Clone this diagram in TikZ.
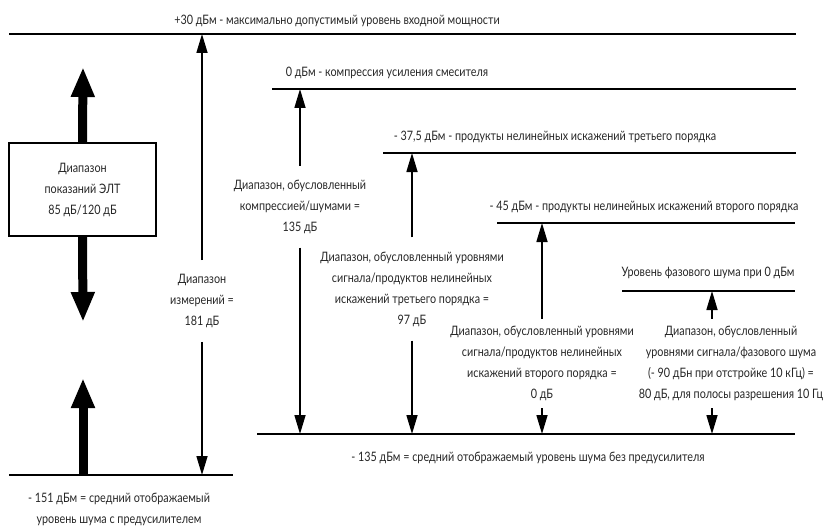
\documentclass[tikz,border=0pt]{standalone}
\usepackage{fontspec}
\setmainfont[FakeStretch=0.83]{Lato}
\usetikzlibrary{arrows.meta}

\begin{document}
\begin{tikzpicture}[x=1pt,y=-1pt,
  level/.style={line width=2.6pt},
  thin arrow/.style={line width=1.6pt,-{Triangle[width=11pt,length=19pt]}},
  thick arrow/.style={line width=9pt,-{Triangle[width=22pt,length=30pt]}},
  lvltext/.style={font=\fontsize{13}{21}\selectfont,inner sep=0pt,text=black!85},
  rangetext/.style={lvltext,align=center,inner xsep=2pt,inner ysep=14pt}]
\useasboundingbox (0,0) rectangle (823,527);

% Level lines
\foreach \name/\xa/\xb/\y in {top/9/796/34, comp/272/796/89, third/383/796/153,
    second/497/795/223, phase/622/795/291, noise/257/795/434, noisepre/9/233/475} {
  \coordinate (\name-l) at (\xa,\y);
  \coordinate (\name-r) at (\xb,\y);
  \draw[level] (\name-l) -- (\name-r);
}

% Level labels
\node[lvltext] (top-txt) at (337,21) {+30 дБм - максимально допустимый уровень входной мощности};
\node[lvltext] (comp-txt) at (387,73) {0 дБм - компрессия усиления смесителя};
\node[lvltext] (third-txt) at (555,137) {- 37,5 дБм - продукты нелинейных искажений третьего порядка};
\node[lvltext] (second-txt) at (644,207) {- 45 дБм - продукты нелинейных искажений второго порядка};
\node[lvltext] (phase-txt) at (708,273) {Уровень фазового шума при 0 дБм};
\node[lvltext] (noise-txt) at (528,458) {- 135 дБм = средний отображаемый уровень шума без предусилителя};
\node[lvltext,align=center] (noisepre-txt) at (119,509.5) {- 151 дБм = средний отображаемый\\уровень шума с предусилителем};

% CRT box with thick arrows
\node[lvltext,draw=black,line width=2pt,align=center,minimum width=147pt,minimum height=93pt]
  (crt) at (82.5,189.5) {Диапазон\\показаний ЭЛТ\\85 дБ/120 дБ};
\coordinate (crt-up) at (83,67);
\coordinate (crt-down) at (83,322);
\coordinate (pre-up) at (83,378);
\draw[thick arrow] (crt.north) -- (crt-up);
\draw[thick arrow] (crt.south) -- (crt-down);
\draw[thick arrow] (pre-up |- noisepre-l) -- (pre-up);

% Ranges
\node[rangetext] (meas) at (202,301) {Диапазон\\измерений =\\181 дБ};
\node[rangetext] (cmp) at (300,206.7) {Диапазон, обусловленный\\компрессией/шумами =\\135 дБ};
\node[rangetext] (im3) at (412,289) {Диапазон, обусловленный уровнями\\сигнала/продуктов нелинейных\\искажений третьего порядка =\\97 дБ};
\node[rangetext,inner ysep=7pt] (im2) at (542,363.5) {Диапазон, обусловленный уровнями\\сигнала/продуктов нелинейных\\искажений второго порядка =\\0 дБ};
\node[rangetext,inner ysep=7pt] (pn) at (731,363.5) {Диапазон, обусловленный\\уровнями сигнала/фазового шума\\(- 90 дБн при отстройке 10 кГц) =\\80 дБ, для полосы разрешения 10 Гц};
\coordinate (pn-x) at (712,0);

% Range arrows
\draw[thin arrow] (meas.north) -- (meas.north |- top-l);
\draw[thin arrow] (meas.south) -- (meas.south |- noisepre-l);
\draw[thin arrow] (cmp.north) -- (cmp.north |- comp-l);
\draw[thin arrow] (cmp.south) -- (cmp.south |- noise-l);
\draw[thin arrow] (im3.north) -- (im3.north |- third-l);
\draw[thin arrow] (im3.south) -- (im3.south |- noise-l);
\draw[thin arrow] (im2.north) -- (im2.north |- second-l);
\draw[thin arrow] (im2.south) -- (im2.south |- noise-l);
\draw[thin arrow] (pn.north -| pn-x) -- (pn-x |- phase-l);
\draw[thin arrow] (pn.south -| pn-x) -- (pn-x |- noise-l);
\end{tikzpicture}
\end{document}
